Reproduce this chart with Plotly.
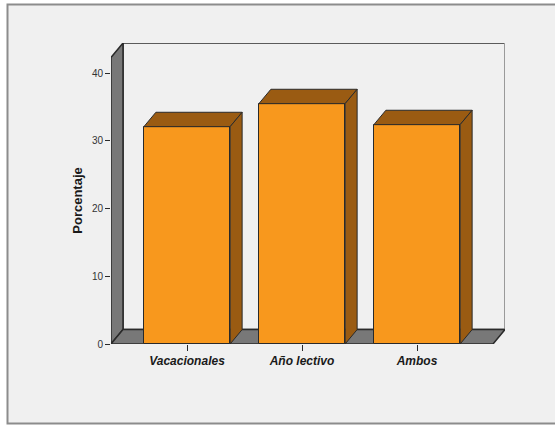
import plotly.graph_objects as go

# ---- data ----
categories = ["Vacacionales", "Año lectivo", "Ambos"]
values = [32.1, 35.5, 32.4]
y_ticks = [0, 10, 20, 30, 40]
y_title = "Porcentaje"

# ---- styling / geometry (pixels) ----
W, H = 555, 425
L, R, T, B = 111, 50, 43, 81
plot_w = W - L - R
plot_h = H - T - B
px_per_cat = 115.0
px_per_unit = 6.77
first_cat_px = 187.0
depth_px_x, depth_px_y = 12.0, 14.4
bar_w = 0.75

FRONT = "#F8981D"
DARK_FACE = "#9A5B12"
WALL = "#787878"
BG = "#F0F0F0"
EDGE = "#2a2a2a"

xmin = -(first_cat_px - L) / px_per_cat
xmax = xmin + plot_w / px_per_cat
ymax = plot_h / px_per_unit
dx = depth_px_x / px_per_cat
dy = depth_px_y / px_per_unit

fig = go.Figure()

# front faces
xs = list(range(len(categories)))
fig.add_trace(go.Bar(
    x=xs, y=values, width=bar_w,
    marker=dict(color=FRONT, line=dict(color=EDGE, width=1)),
    hoverinfo="skip", showlegend=False,
))

# top and side faces
for xi, v in zip(xs, values):
    xl, xr = xi - bar_w / 2, xi + bar_w / 2
    fig.add_trace(go.Scatter(
        x=[xl, xl + dx, xr + dx, xr, xl], y=[v, v + dy, v + dy, v, v],
        fill="toself", fillcolor=DARK_FACE, mode="lines",
        line=dict(color=EDGE, width=1), hoverinfo="skip", showlegend=False))
    fig.add_trace(go.Scatter(
        x=[xr, xr + dx, xr + dx, xr, xr], y=[0, dy, v + dy, v, 0],
        fill="toself", fillcolor=DARK_FACE, mode="lines",
        line=dict(color=EDGE, width=1), hoverinfo="skip", showlegend=False))

def path(pts):
    return "M " + " L ".join(f"{a},{b}" for a, b in pts) + " Z"

def px2paper_x(p):
    return (p - L) / plot_w
def py2paper_y(p):
    return (H - B - p) / plot_h

shapes = []
# outer frame (paper coords)
shapes.append(dict(type="rect", xref="paper", yref="paper", layer="below",
                   x0=px2paper_x(7.5), x1=px2paper_x(570),
                   y0=py2paper_y(423.5), y1=py2paper_y(4.5),
                   fillcolor=BG, line=dict(color="#8c8c8c", width=2)))
# back wall
shapes.append(dict(type="path", xref="x", yref="y", layer="below",
                   path=path([(xmin + dx, dy), (xmin + dx, ymax), (xmax, ymax), (xmax, dy)]),
                   fillcolor=BG, line=dict(color=EDGE, width=1.5)))
shapes.append(dict(type="line", xref="x", yref="y", layer="below",
                   x0=xmax, x1=xmax, y0=dy, y1=ymax,
                   line=dict(color="#9a9a9a", width=2)))
# left wall
shapes.append(dict(type="path", xref="x", yref="y", layer="below",
                   path=path([(xmin, 0), (xmin + dx, dy), (xmin + dx, ymax), (xmin, ymax - dy)]),
                   fillcolor=WALL, line=dict(color=EDGE, width=1.5)))
# floor
shapes.append(dict(type="path", xref="x", yref="y", layer="below",
                   path=path([(xmin, 0), (xmax - dx, 0), (xmax, dy), (xmin + dx, dy)]),
                   fillcolor=WALL, line=dict(color=EDGE, width=1.5)))

# y-axis title, centred on the front face of the left wall
fig.add_annotation(text=y_title, textangle=-90, showarrow=False,
                   xref="paper", yref="y", x=px2paper_x(78), y=(ymax - dy) / 2,
                   xanchor="center", yanchor="middle",
                   font=dict(family="Liberation Sans, Arial", size=13,
                             color="#1a1a1a", weight="bold"))

fig.update_layout(
    width=W, height=H, autosize=False,
    margin=dict(l=L, r=R, t=T, b=B, pad=0),
    paper_bgcolor="white", plot_bgcolor="rgba(0,0,0,0)",
    shapes=shapes, bargap=0,
    xaxis=dict(range=[xmin, xmax], tickvals=xs, ticktext=categories,
               showgrid=False, zeroline=False, showline=False,
               ticks="outside", ticklen=6, tickcolor=EDGE, tickwidth=1,
               tickfont=dict(family="Liberation Sans, Arial", size=12,
                             color="#1a1a1a", weight="bold", style="italic"),
               fixedrange=True),
    yaxis=dict(range=[0, ymax], tickvals=y_ticks,
               showgrid=False, zeroline=False, showline=False,
               ticks="outside", ticklen=5, tickcolor=EDGE, tickwidth=1,
               tickfont=dict(family="Liberation Sans, Arial", size=10, color="#333333"),
               fixedrange=True),
)

fig.write_html("out.html")
